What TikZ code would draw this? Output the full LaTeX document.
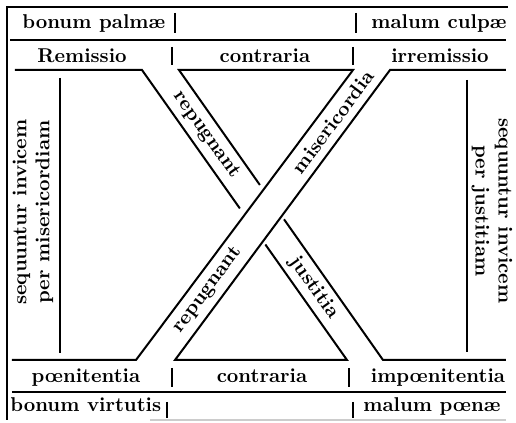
\documentclass[tikz,border=0pt]{standalone}
\usepackage{tikz}
\usetikzlibrary{calc}

\tikzset{
  lab/.style={font=\fontsize{10}{12}\selectfont\bfseries,inner sep=0pt,anchor=base},
  side/.style={font=\fontsize{10}{11.5}\selectfont\bfseries,inner sep=0pt,align=center},
  band/.style={font=\fontsize{10}{12}\selectfont\bfseries,inner sep=0pt,sloped},
  rule/.style={line width=1pt},
  bar/.style={line width=1.1pt}
}

\begin{document}
\begin{tikzpicture}[x=0.5pt,y=-0.5pt]
	\useasboundingbox (0,0) rectangle (516,423);
	% corners of the two crossing bands
	\coordinate (A1) at (142,70); \coordinate (A2) at (347,360);
	\coordinate (B1) at (179,70); \coordinate (B2) at (383,360);
	\coordinate (C1) at (353,70); \coordinate (C2) at (136,360);
	\coordinate (D1) at (390,70); \coordinate (D2) at (175,360);
	\coordinate (AC) at (intersection of A1--A2 and C1--C2);
	\coordinate (BC) at (intersection of B1--B2 and C1--C2);
	\coordinate (AD) at (intersection of A1--A2 and D1--D2);
	\coordinate (BD) at (intersection of B1--B2 and D1--D2);

	% frame and rows
	\draw[line width=1.2pt] (7,420) -- (7,7) -- (508,7);
	\draw[rule] (10,40) -- (506,40);
	\draw[rule] (12,392) -- (506,392);
	\draw[gray!40,line width=0.6pt] (150,420) -- (506,420);
	\foreach \x/\ya/\yb in {175/13/33,356/13/33,172/47/65,353/47/65,172/368/387,349/368/387,167/402/418,353/402/418}{
		\draw[bar] (\x,\ya) -- (\x,\yb);
	}

	% the X
	\draw[rule] (15,70) -- (A1) -- ($(AC)!4pt!(A1)$);
	\draw[rule] ($(BC)!3pt!(B1)$) -- (B1) -- (C1) -- (C2) -- (12,360);
	\draw[rule] (506,70) -- (D1) -- (D2) -- (A2) -- ($(AD)!2pt!(A2)$);
	\draw[rule] ($(BD)!2pt!(B2)$) -- (B2) -- (506,360);
	\draw[line width=0.8pt] (60,78) -- (60,353);
	\draw[line width=0.8pt] (467,80) -- (467,352);

	\node[lab,anchor=base west] (palmae) at (22,29) {bonum palmæ};
	\node[lab,anchor=base west] (culpae) at (371,29) {malum culpæ};
	\node[lab] (remissio) at (82,62) {Remissio};
	\node[lab] (contrariaA) at (265,62) {contraria};
	\node[lab] (irremissio) at (440,62) {irremissio};
	\node[lab] (poenitentia) at (86,383) {pœnitentia};
	\node[lab] (contrariaB) at (262,383) {contraria};
	\node[lab] (impoenitentia) at (438,383) {impœnitentia};
	\node[lab,anchor=base west] (virtutis) at (10,412) {bonum virtutis};
	\node[lab,anchor=base west] (poenae) at (363,412) {malum pœnæ};

	\node[side,rotate=90] (misericordiam) at (33,212) {sequuntur invicem\\per misericordiam};
	\node[side,rotate=-90] (justitiam) at (492,211) {sequuntur invicem\\per justitiam};

	\path ($(A1)!0.5!(B1)$) -- ($(A2)!0.5!(B2)$)
		node[band,pos=0.224] (repugnantA) {repugnant}
		node[band,pos=0.752] (justitia) {justitia};
	\path ($(C1)!0.5!(D1)$) -- ($(C2)!0.5!(D2)$)
		node[band,pos=0.179] (misericordia) {misericordia}
		node[band,pos=0.759] (repugnantB) {repugnant};
\end{tikzpicture}
\end{document}
